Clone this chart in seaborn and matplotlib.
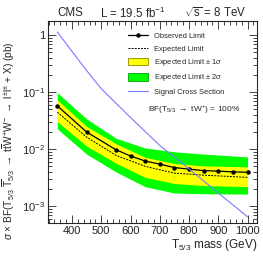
import numpy as np
import pandas as pd
import matplotlib
matplotlib.use("Agg")
import matplotlib.pyplot as plt
import seaborn as sns
from matplotlib.patches import Patch
from matplotlib.lines import Line2D
from matplotlib.ticker import FixedLocator, FixedFormatter, MultipleLocator, LogLocator, NullFormatter

# ---- data ----
obs_mass = [350, 450, 550, 600, 650, 700, 750, 800, 850, 900, 950, 1000]
obs_limit = [0.0575, 0.020, 0.0098, 0.0076, 0.0062, 0.00546, 0.00476, 0.00446, 0.00421, 0.00411, 0.0040, 0.00394]

band_mass = [350, 450, 550, 650, 750, 850, 1000]
exp_limit = [0.0446, 0.0163, 0.0078, 0.0050, 0.0038, 0.0035, 0.0032]
one_sig_hi = [0.073, 0.025, 0.0125, 0.0072, 0.0056, 0.0051, 0.0049]
one_sig_lo = [0.0305, 0.0113, 0.0057, 0.0032, 0.0025, 0.0023, 0.0022]
two_sig_hi = [0.098, 0.034, 0.0156, 0.0105, 0.0090, 0.0082, 0.0073]
two_sig_lo = [0.0227, 0.0082, 0.0040, 0.0022, 0.0017, 0.00165, 0.00163]

xsec_mass = [350, 400, 450, 500, 600, 700, 800, 900, 1000]
xsec = [1.14, 0.52, 0.24, 0.115, 0.036, 0.0116, 0.0045, 0.0017, 0.00065]

sns.set_style("ticks")
plt.rcParams['font.family'] = ['Liberation Sans', 'DejaVu Sans']
plt.rcParams['mathtext.fontset'] = 'custom'
plt.rcParams['mathtext.rm'] = 'Liberation Sans'
plt.rcParams['mathtext.it'] = 'Liberation Sans:italic'
plt.rcParams['mathtext.sf'] = 'Liberation Sans'

fig = plt.figure(figsize=(2.63, 2.61), dpi=100)
ax = fig.add_axes([0.1825, 0.1444, 0.7945, 0.7763])

ax.fill_between(band_mass, two_sig_lo, two_sig_hi, color='#00ff00', lw=0)
ax.fill_between(band_mass, one_sig_lo, one_sig_hi, color='#ffff00', lw=0)

exp_df = pd.DataFrame({'mass': band_mass, 'limit': exp_limit})
obs_df = pd.DataFrame({'mass': obs_mass, 'limit': obs_limit})
xs_df = pd.DataFrame({'mass': xsec_mass, 'xsec': xsec})

sns.lineplot(data=exp_df, x='mass', y='limit', ax=ax, color='black', lw=0.7,
             linestyle=(0, (2, 1.2)))
sns.lineplot(data=obs_df, x='mass', y='limit', ax=ax, color='black', lw=0.9,
             marker='o', markersize=3.2, markeredgewidth=0)
sns.lineplot(data=xs_df, x='mass', y='xsec', ax=ax, color='#7a7aff', lw=0.8)

ax.set_yscale('log')
ax.set_xlim(318, 1032)
ax.set_ylim(5e-4, 1.8)

ax.xaxis.set_major_locator(MultipleLocator(100))
ax.xaxis.set_minor_locator(MultipleLocator(20))
ax.yaxis.set_major_locator(FixedLocator([1e-3, 1e-2, 1e-1, 1]))
ax.yaxis.set_major_formatter(FixedFormatter(['$10^{-3}$', '$10^{-2}$', '$10^{-1}$', '1']))
ax.yaxis.set_minor_locator(LogLocator(base=10, subs=np.arange(2, 10)))
ax.yaxis.set_minor_formatter(NullFormatter())
ax.set_xticks([400, 500, 600, 700, 800, 900, 1000])
ax.set_xticklabels(['400', '500', '600', '700', '800', '900', '1000'])

ax.tick_params(which='both', direction='in', top=True, right=True, labelsize=8, pad=2, width=0.6)
ax.tick_params(which='major', length=6)
ax.tick_params(which='minor', length=3)
for s in ax.spines.values():
    s.set_linewidth(0.8)

ax.set_xlabel(r'T$_{5/3}$ mass (GeV)', fontsize=8.5, loc='right', labelpad=1)
ax.set_ylabel(r'$\sigma$ $\times$ BF(T$_{5/3}$ $\overline{\mathrm{T}}_{5/3}$ $\rightarrow$ t$\overline{\mathrm{t}}$W$^{+}$W$^{-}$ $\rightarrow$ l$^{\pm}$l$^{\pm}$ + X) (pb)',
              fontsize=7.3, labelpad=2)
ax.yaxis.set_label_coords(-0.15, 0.41)

handles = [
    Line2D([], [], color='black', lw=0.9, marker='o', markersize=3.2, markeredgewidth=0),
    Line2D([], [], color='black', lw=0.7, linestyle=(0, (2, 1.2))),
    Patch(facecolor='#ffff00', edgecolor='#8a8a00', lw=0.6),
    Patch(facecolor='#00ff00', edgecolor='#00a000', lw=0.6),
    Line2D([], [], color='#7a7aff', lw=0.8),
]
labels = ['Observed Limit', 'Expected Limit', r'Expected Limit $\pm$ 1$\sigma$',
          r'Expected Limit $\pm$ 2$\sigma$', 'Signal Cross Section']
ax.legend(handles, labels, loc='upper left', bbox_to_anchor=(0.37, 0.96), frameon=False,
          fontsize=5.4, handlelength=2.6, handleheight=1.25, labelspacing=0.55, borderaxespad=0)

ax.text(0.48, 0.56, r'BF(T$_{5/3}$ $\rightarrow$ tW$^{+}$) = 100%', transform=ax.transAxes,
        fontsize=6, ha='left', va='center')

fig.text(0.22, 0.95, 'CMS', fontsize=8.3, ha='left', va='center')
fig.text(0.38, 0.95, r'L = 19.5 fb$^{-1}$', fontsize=8.3, ha='left', va='center')
fig.text(0.70, 0.95, r'$\sqrt{\mathrm{s}}$ = 8 TeV', fontsize=8.3, ha='left', va='center')

fig.savefig('out.png', dpi=100)
